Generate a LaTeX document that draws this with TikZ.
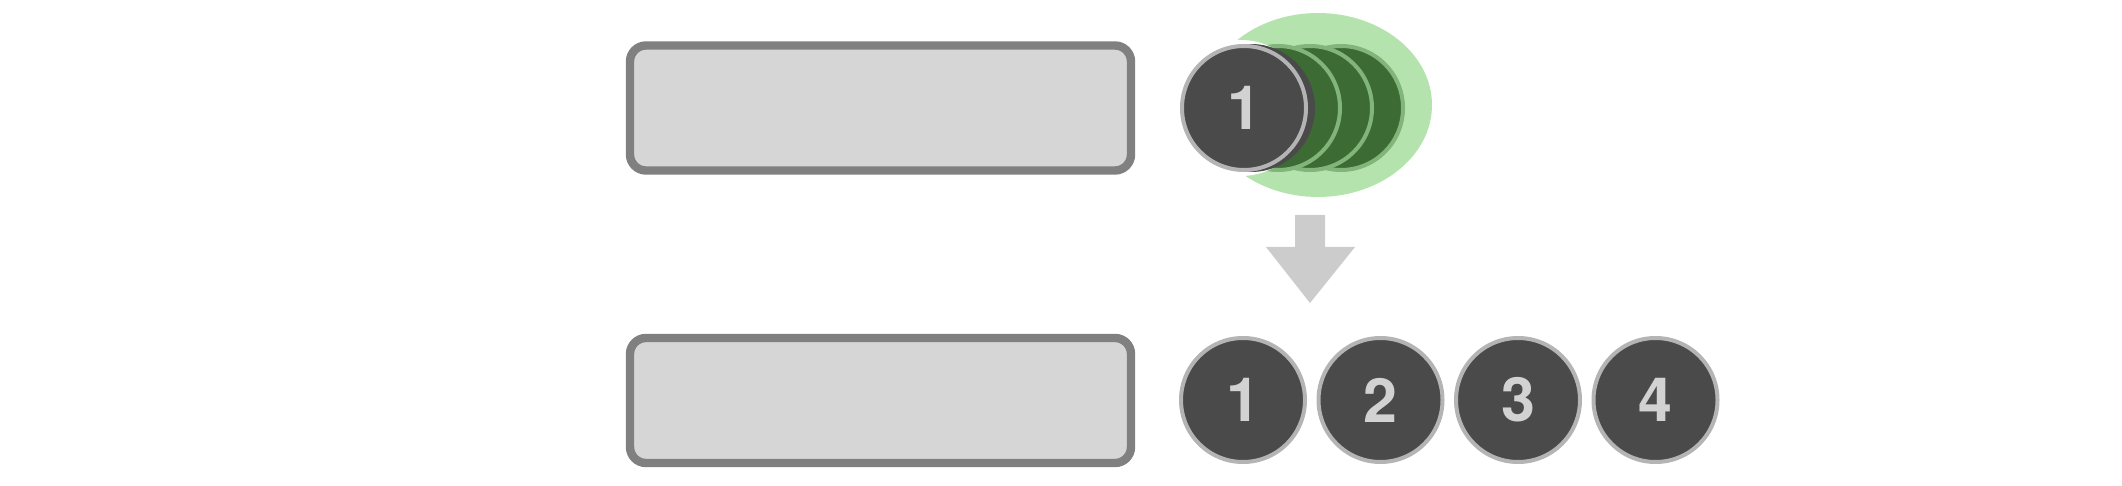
\documentclass[tikz,border=0pt]{standalone}
\usepackage{fontspec}
\setmainfont{TeX Gyre Heros}
\usetikzlibrary{shapes.geometric}
\begin{document}
\begin{tikzpicture}[x=0.5pt,y=-0.5pt,
  panel/.style={draw=panelborder,line width=4.2pt,fill=panelfill,rounded corners=8pt,minimum width=250.5pt,minimum height=62.5pt,inner sep=0pt},
  ball/.style={circle,draw=ballring,line width=2pt,fill=ballfill,minimum size=62pt,inner sep=0pt,text=balltext,font=\fontsize{30.5}{30.5}\selectfont\bfseries},
  ghost/.style={circle,draw=ghostring,line width=2pt,fill=ghostfill,minimum size=62pt,inner sep=0pt},
]
\definecolor{panelborder}{HTML}{808080}
\definecolor{panelfill}{HTML}{D6D6D6}
\definecolor{ballring}{HTML}{B4B4B4}
\definecolor{ballfill}{HTML}{4A4A4A}
\definecolor{balltext}{HTML}{D2D2D2}
\definecolor{ghostring}{HTML}{82B57A}
\definecolor{ghostfill}{HTML}{3D6B34}
\definecolor{halo}{HTML}{B5E3AD}
\definecolor{arrowgray}{HTML}{CCCCCC}
\useasboundingbox (0,0) rectangle (2122,486);
% top row
\node[panel] (p1) at (880.5,108) {};
\node[ellipse,fill=halo,minimum width=114pt,minimum height=92pt,inner sep=0pt] (cloud) at (1318,105) {};
\node[ghost] (g4) at (1341,108) {};
\node[ghost] (g3) at (1310,108) {};
\node[ghost] (g2) at (1278,108) {};
\node[circle,fill=white,minimum size=68pt,inner sep=0pt] (wh) at (1241,108) {};
\node[circle,fill=ballfill,minimum size=64pt,inner sep=0pt] (sh) at (1251,108) {};
\node[ball] (t1) at (1244,108) {1};
% arrow
\fill[arrowgray] (1295,215) -- (1325,215) -- (1325,247) -- (1355,247) -- (1310,303) -- (1266,247) -- (1295,247) -- cycle;
% bottom row
\node[panel] (p2) at (880.5,400.5) {};
\node[ball] (b1) at (1243,400) {1};
\node[ball] (b2) at (1380.5,400) {2};
\node[ball] (b3) at (1518,400) {3};
\node[ball] (b4) at (1655.5,400) {4};
\end{tikzpicture}
\end{document}
